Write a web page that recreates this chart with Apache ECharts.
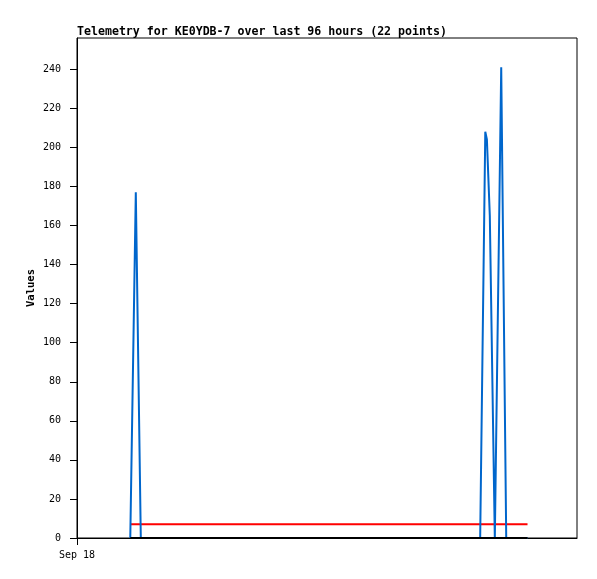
<!DOCTYPE html>
<html>
<head>
<meta charset="utf-8">
<script src="https://cdn.jsdelivr.net/npm/echarts@6/dist/echarts.min.js"></script>
<style>
html,body{margin:0;padding:0;background:#fff;}
#c{width:597px;height:579px;}
</style>
</head>
<body>
<div id="c"></div>
<script>
// hours since Sep 18 00:00
const hours = [10.23, 11.29, 12.25, 15.6, 24.9, 33.2, 41.7, 50.4, 58.8, 66.1, 73.5, 77.41, 78.39, 78.70, 79.26, 80.22, 81.45, 82.41, 83.6, 84.9, 85.7, 86.5];
const blueValues = [0, 177, 0, 0, 0, 0, 0, 0, 0, 0, 0, 0, 208, 204, 165, 0, 241, 0, 0, 0, 0, 0];
const redValues = [7, 7, 7, 7, 7, 7, 7, 7, 7, 7, 7, 7, 7, 7, 7, 7, 7, 7, 7, 7, 7, 7];
const blackValues = [0, 0, 0, 0, 0, 0, 0, 0, 0, 0, 0, 0, 0, 0, 0, 0, 0, 0, 0, 0, 0, 0];
const yTicks = [0, 20, 40, 60, 80, 100, 120, 140, 160, 180, 200, 220, 240];
const xTicks = [0];
const xTickLabels = ['Sep 18'];

const pair = (vals) => hours.map((h, i) => [h, vals[i]]);
const mono = 'DejaVu Sans Mono';

const chart = echarts.init(document.getElementById('c'), null, {renderer: 'canvas'});
chart.setOption({
  animation: false,
  backgroundColor: '#fff',
  title: {
    text: 'Telemetry for KE0YDB-7 over last 96 hours (22 points)',
    left: 72, top: 21,
    textStyle: {fontFamily: mono, fontWeight: 'bold', fontSize: 11.6, color: '#000'}
  },
  grid: {left: 77, top: 38, right: 20, bottom: 41, show: true, borderColor: '#000', borderWidth: 1, backgroundColor: 'transparent'},
  xAxis: {
    type: 'value', min: 0, max: 96,
    axisLine: {show: true, onZero: false, lineStyle: {color: '#000', width: 1}},
    axisTick: {show: true, length: 7, customValues: xTicks, lineStyle: {color: '#000'}},
    axisLabel: {customValues: xTicks, margin: 12, fontFamily: mono, fontSize: 10, color: '#000',
      formatter: (v) => { const i = xTicks.indexOf(v); return i >= 0 ? xTickLabels[i] : ''; }},
    splitLine: {show: false}
  },
  yAxis: {
    type: 'value', min: 0, max: 256,
    name: 'Values', nameLocation: 'middle', nameGap: 40, nameMoveOverlap: false,
    nameTextStyle: {fontFamily: mono, fontWeight: 'bold', fontSize: 10.5, color: '#000'},
    axisLine: {show: true, lineStyle: {color: '#000', width: 1}},
    axisTick: {show: true, length: 7, customValues: yTicks, lineStyle: {color: '#000'}},
    axisLabel: {customValues: yTicks, margin: 16, fontFamily: mono, fontSize: 10, color: '#000'},
    splitLine: {show: false}
  },
  series: [
    {type: 'line', data: pair(redValues), showSymbol: false, z: 2,
      lineStyle: {color: '#ff0000', width: 2}},
    {type: 'line', data: pair(blueValues), showSymbol: false, z: 3,
      lineStyle: {color: '#0066cc', width: 2}},
    {type: 'line', data: pair(blackValues), showSymbol: false, z: 4,
      lineStyle: {color: '#000000', width: 2}}
  ]
});
</script>
</body>
</html>
